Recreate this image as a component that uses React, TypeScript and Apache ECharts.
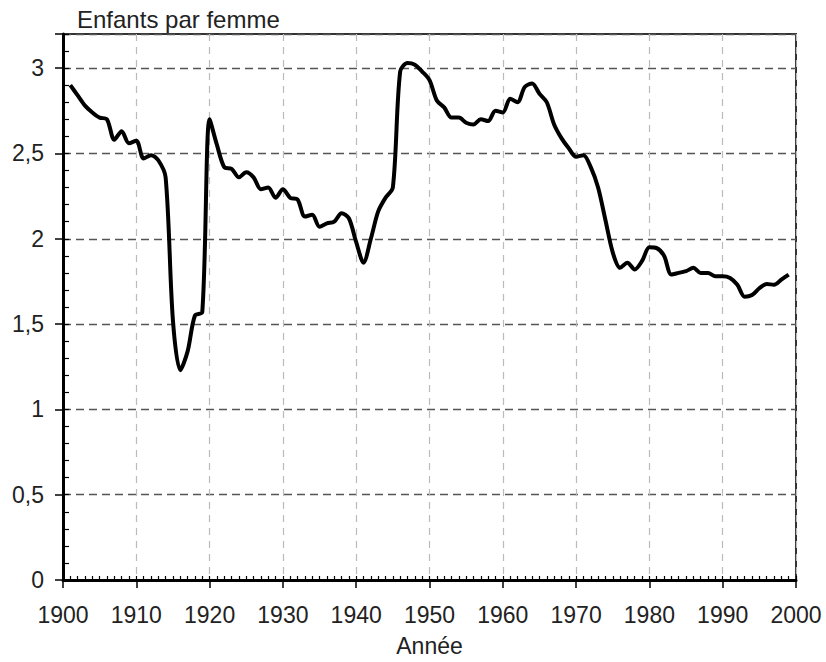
import React, { useEffect, useRef } from "react";
import * as echarts from "echarts";

const years: number[] = [
  1901, 1902, 1903, 1904, 1905, 1906, 1907, 1908, 1909, 1910,
  1911, 1912, 1913, 1914, 1915, 1916, 1917, 1918, 1919, 1920,
  1921, 1922, 1923, 1924, 1925, 1926, 1927, 1928, 1929, 1930,
  1931, 1932, 1933, 1934, 1935, 1936, 1937, 1938, 1939, 1940,
  1941, 1942, 1943, 1944, 1945, 1946, 1947, 1948, 1949, 1950,
  1951, 1952, 1953, 1954, 1955, 1956, 1957, 1958, 1959, 1960,
  1961, 1962, 1963, 1964, 1965, 1966, 1967, 1968, 1969, 1970,
  1971, 1972, 1973, 1974, 1975, 1976, 1977, 1978, 1979, 1980,
  1981, 1982, 1983, 1984, 1985, 1986, 1987, 1988, 1989, 1990,
  1991, 1992, 1993, 1994, 1995, 1996, 1997, 1998, 1999,
];

const fertility: number[] = [
  2.9, 2.84, 2.78, 2.74, 2.71, 2.7, 2.58, 2.63, 2.56, 2.575,
  2.47, 2.49, 2.46, 2.36, 1.52, 1.23, 1.34, 1.55, 1.57, 2.7,
  2.55, 2.42, 2.41, 2.36, 2.39, 2.36, 2.29, 2.3, 2.24, 2.29,
  2.24, 2.23, 2.13, 2.14, 2.07, 2.09, 2.1, 2.15, 2.12, 1.98,
  1.86, 2.0, 2.16, 2.24, 2.3, 2.98, 3.03, 3.02, 2.98, 2.93,
  2.81, 2.77, 2.71, 2.71, 2.68, 2.67, 2.7, 2.69, 2.75, 2.74,
  2.82, 2.8, 2.89, 2.91, 2.85, 2.8, 2.67, 2.59, 2.53, 2.48,
  2.49, 2.42, 2.3, 2.11, 1.92, 1.83, 1.86, 1.82, 1.87, 1.95,
  1.945, 1.9, 1.79, 1.8, 1.81, 1.83, 1.8, 1.8, 1.78, 1.78,
  1.77, 1.73, 1.66, 1.67, 1.71, 1.735, 1.73, 1.76, 1.79,
];

const yTickLabels: Record<string, string> = {
  "0": "0", "0.5": "0,5", "1": "1", "1.5": "1,5", "2": "2", "2.5": "2,5", "3": "3",
};

const FONT = "'Liberation Sans', Arial, Helvetica, sans-serif";

export default function App() {
  const ref = useRef<HTMLDivElement>(null);
  useEffect(() => {
    if (!ref.current) return;
    const chart = echarts.init(ref.current, null, { renderer: "svg" });
    const data = years.map((y, i) => [y, fertility[i]]);
    chart.setOption({
      animation: false,
      backgroundColor: "#ffffff",
      title: {
        text: "Enfants par femme",
        left: 72,
        top: 2,
        textStyle: { fontFamily: FONT, fontSize: 24, fontWeight: "normal", color: "#222" },
      },
      grid: {
        left: 63, right: 30, top: 34, bottom: 79,
        show: true, borderColor: "#333", borderWidth: 2, backgroundColor: "transparent",
      },
      xAxis: [
        {
          type: "value", min: 1900, max: 2000, interval: 10,
          name: "Année", nameLocation: "middle", nameGap: 54,
          nameTextStyle: { fontFamily: FONT, fontSize: 23, color: "#222" },
          axisLine: { show: true, onZero: false, lineStyle: { color: "#000", width: 3 } },
          axisTick: { show: true, inside: false, length: 8, lineStyle: { color: "#000", width: 1.5 } },
          axisLabel: { fontFamily: FONT, fontSize: 23, color: "#222", margin: 23, formatter: (v: number) => String(v) },
          splitLine: { show: true, lineStyle: { color: "#bbb", type: [7, 6], width: 1.2 } },
        },
        {
          type: "value", min: 1900, max: 2000, interval: 1, position: "bottom",
          axisLine: { show: false, onZero: false },
          axisTick: { show: true, inside: true, length: 4, lineStyle: { color: "#000", width: 1.2 } },
          axisLabel: { show: false },
          splitLine: { show: false },
        },
      ],
      yAxis: [
        {
          type: "value", min: 0, max: 3.2, interval: 0.5,
          axisLine: { show: true, onZero: false, lineStyle: { color: "#000", width: 3 } },
          axisTick: { show: true, inside: false, length: 8, lineStyle: { color: "#000", width: 1.5 } },
          axisLabel: {
            fontFamily: FONT, fontSize: 23, color: "#222", margin: 19,
            formatter: (v: number) => yTickLabels[String(Math.round(v * 10) / 10)] ?? "",
          },
          splitLine: { show: true, lineStyle: { color: "#555", type: [8, 5], width: 1.3 } },
        },
        {
          type: "value", min: 0, max: 3.2, interval: 0.1, position: "left",
          axisLine: { show: false, onZero: false },
          axisTick: { show: true, inside: true, length: 6, lineStyle: { color: "#000", width: 1.2 } },
          axisLabel: { show: false },
          splitLine: { show: false },
        },
      ],
      series: [
        {
          type: "line",
          xAxisIndex: 0,
          yAxisIndex: 0,
          data,
          smooth: 0.3,
          symbol: "none",
          lineStyle: { color: "#000", width: 4 },
          z: 5,
        },
      ],
    });
    return () => chart.dispose();
  }, []);
  return <div ref={ref} style={{ width: 826, height: 662, position: "absolute", left: 0, top: 0 }} />;
}
